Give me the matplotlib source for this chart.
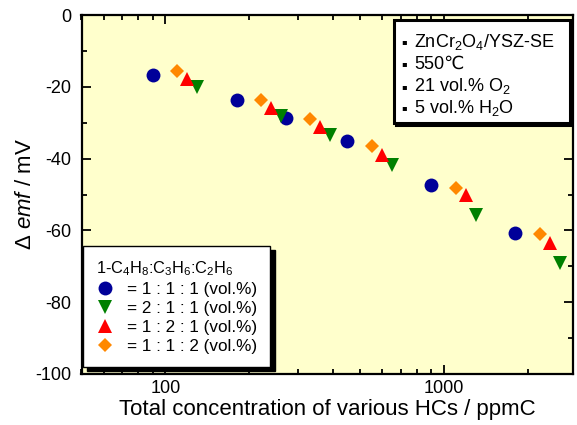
import matplotlib
matplotlib.use("Agg")
import matplotlib.pyplot as plt
from matplotlib.patches import Rectangle
from matplotlib.ticker import FixedLocator, FixedFormatter, NullFormatter, LogLocator, MultipleLocator

plt.rcParams['font.family'] = ['Liberation Sans', 'DejaVu Sans']
plt.rcParams['mathtext.fontset'] = 'custom'
plt.rcParams['mathtext.rm'] = 'Liberation Sans'
plt.rcParams['mathtext.it'] = 'Liberation Sans:italic'
plt.rcParams['axes.unicode_minus'] = False

# ---- data (ppmC, mV) ----
x_111 = [90, 180, 270, 450, 900, 1800]
y_111 = [-16.7, -23.6, -28.6, -35.2, -47.4, -60.8]
x_211 = [130, 260, 390, 650, 1300, 2600]
y_211 = [-20.0, -28.2, -33.3, -41.9, -55.6, -69.0]
x_121 = [120, 240, 360, 600, 1200, 2400]
y_121 = [-17.9, -25.9, -31.3, -39.1, -50.0, -63.6]
x_112 = [110, 220, 330, 550, 1100, 2200]
y_112 = [-15.6, -23.6, -28.9, -36.6, -48.3, -60.9]

series_labels = ['= 1 : 1 : 1 (vol.%)', '= 2 : 1 : 1 (vol.%)',
                 '= 1 : 2 : 1 (vol.%)', '= 1 : 1 : 2 (vol.%)']
info_labels = [r'ZnCr$_2$O$_4$/YSZ-SE', '550℃', r'21 vol.% O$_2$', r'5 vol.% H$_2$O']
legend_title = r'1-C$_4$H$_8$:C$_3$H$_6$:C$_2$H$_6$'
xlabel = 'Total concentration of various HCs / ppmC'
ylabel = r'$\Delta$ $\mathit{emf}$ / mV'
xtick_vals = [100, 1000]
xtick_labels = ['100', '1000']

W, H = 577, 425
fig = plt.figure(figsize=(W / 100, H / 100), dpi=100)
AX_L, AX_T, AX_R, AX_B = 81.5, 15, 573, 374
ax = fig.add_axes([AX_L / W, 1 - AX_B / H, (AX_R - AX_L) / W, (AX_B - AX_T) / H])
ax.set_facecolor('#FFFFCC')


def axfrac(px, py):
    return (px - AX_L) / (AX_R - AX_L), (AX_B - py) / (AX_B - AX_T)


styles = [
    dict(marker='o', color='#000099', ms=10),
    dict(marker='v', color='#008000', ms=9.8),
    dict(marker='^', color='#FF0000', ms=9.8),
    dict(marker='D', color='#FF8800', ms=7.2),
]
handles = []
for (xs, ys), st, lab in zip([(x_111, y_111), (x_211, y_211), (x_121, y_121), (x_112, y_112)],
                             styles, series_labels):
    h, = ax.plot(xs, ys, linestyle='none', marker=st['marker'], color=st['color'],
                 markersize=st['ms'], markeredgewidth=0, label=lab)
    handles.append(h)

ax.set_xscale('log')
ax.set_xlim(50, 2900)
ax.set_ylim(-100, 0)
ax.xaxis.set_major_locator(FixedLocator(xtick_vals))
ax.xaxis.set_major_formatter(FixedFormatter(xtick_labels))
ax.xaxis.set_minor_locator(LogLocator(base=10, subs=range(2, 10)))
ax.xaxis.set_minor_formatter(NullFormatter())
ax.set_yticks(range(-100, 1, 20))
ax.yaxis.set_minor_locator(MultipleLocator(10))

ax.tick_params(which='both', direction='in', top=True, right=True, width=1.3, labelsize=13)
ax.tick_params(which='major', length=6.5)
ax.tick_params(which='minor', length=3.5)
ax.tick_params(axis='x', which='major', pad=4.5)
ax.tick_params(axis='y', which='major', pad=7.5)
for sp in ax.spines.values():
    sp.set_linewidth(1.6)

ax.set_xlabel(xlabel, fontsize=16, labelpad=1)
ax.set_ylabel(ylabel, fontsize=16, labelpad=-0.5)

# ---- info box (top right) ----
x0, y0 = axfrac(393.5, 122.5)
x1, y1 = axfrac(569.5, 20)
sdx, sdy = 2.5 / (AX_R - AX_L), 2.5 / (AX_B - AX_T)
ax.add_patch(Rectangle((x0 + sdx, y0 - sdy), x1 - x0, y1 - y0, transform=ax.transAxes,
                       facecolor='black', edgecolor='black', linewidth=2.2, zorder=5))
ax.add_patch(Rectangle((x0, y0), x1 - x0, y1 - y0, transform=ax.transAxes,
                       facecolor='white', edgecolor='black', linewidth=2.2, zorder=6))
baselines = [46.7, 69.0, 91.3, 112.7]
for lab, b in zip(info_labels, baselines):
    tx, ty = axfrac(414, b)
    ax.text(tx, ty, lab, transform=ax.transAxes, fontsize=13, ha='left', va='baseline', zorder=7)
    bx, by = axfrac(404, b - 5)
    ax.text(bx, by, '▪', transform=ax.transAxes, fontsize=6, ha='center', va='center',
            family='DejaVu Sans', zorder=7)

# ---- series legend (bottom left) ----
leg2 = ax.legend(handles, series_labels, loc='lower left', bbox_to_anchor=axfrac(83, 367),
                 borderaxespad=0, fontsize=12.3, title=legend_title, title_fontsize=11.8,
                 alignment='left', handlelength=1.1, handletextpad=0.75, labelspacing=0.24,
                 borderpad=0.75, fancybox=False, framealpha=1, edgecolor='black',
                 shadow={'ox': 3, 'oy': -3, 'color': 'black', 'alpha': 1})
leg2.get_frame().set_linewidth(1.0)
leg2.set_zorder(8)

fig.savefig('out.png', dpi=100)
